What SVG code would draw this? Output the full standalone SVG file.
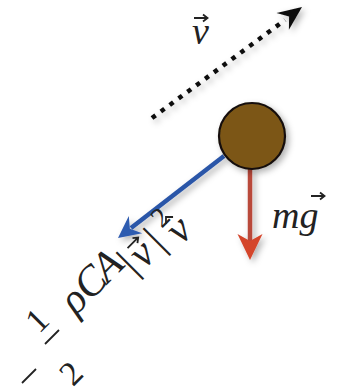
<svg xmlns="http://www.w3.org/2000/svg" width="339" height="391" viewBox="0 0 339 391">
<defs>
<filter id="sh" x="-30%" y="-30%" width="160%" height="160%">
<feDropShadow dx="3" dy="3" stdDeviation="3" flood-color="#000" flood-opacity="0.3"/>
</filter>
</defs>
<style>
.m{font-family:"Liberation Serif","DejaVu Serif",serif;font-style:italic;fill:#222}
.u{font-family:"Liberation Serif","DejaVu Serif",serif;fill:#222}
.c{text-anchor:middle;dominant-baseline:central}
.ln{stroke:#222;stroke-width:1.8;fill:none}
</style>
<rect width="339" height="391" fill="#fff"/>
<g id="connectors">
<g id="velocity-arrow" filter="url(#sh)">
<line x1="152" y1="118" x2="285" y2="20" stroke="#111" stroke-width="4.5" stroke-dasharray="4.5 6.5"/>
<path d="M302,7 L276.5,12.9 L289.1,16.5 L288.9,29.7 Z" fill="#111"/>
</g>
<g id="drag-arrow" filter="url(#sh)">
<line x1="224" y1="156" x2="131" y2="228" stroke="#2c56a8" stroke-width="4.5"/>
<path d="M118,238 L128.8,215.9 L129.9,228.8 L142.2,233.3 Z" fill="#2f5bb0"/>
</g>
<g id="gravity-arrow" filter="url(#sh)">
<line x1="250" y1="168" x2="250" y2="242" stroke="#b9483a" stroke-width="4.5"/>
<path d="M250,260 L237.5,234 L250,241 L262.5,234 Z" fill="#d4452c"/>
</g>
</g>
<g id="mass" filter="url(#sh)">
<circle cx="252" cy="136" r="33" fill="#7b5719" stroke="#15100a" stroke-width="2.2"/>
</g>
<g id="label-v">
<text class="m" x="192" y="44" font-size="38">v</text>
<path class="ln" d="M194,18 H207 M203,14.5 L207.5,18 L203,21.5"/>
</g>
<g id="label-mg">
<text class="m" x="272" y="228" font-size="38">mg</text>
<path class="ln" d="M311,196 H324 M320,192.5 L324.5,196 L320,199.5"/>
</g>
<g id="label-drag">
<line class="ln" x1="22" y1="383" x2="36" y2="369"/>
<text class="u c" font-size="34" transform="translate(37,320) rotate(-45)">1</text>
<line class="ln" x1="45" y1="344" x2="59" y2="330"/>
<text class="u c" font-size="34" transform="translate(71,373) rotate(-45)">2</text>
<text class="m c" font-size="42" transform="translate(73,299) rotate(-45)">ρ</text>
<text class="m c" font-size="42" transform="translate(90,282) rotate(-45)">C</text>
<text class="m c" font-size="42" transform="translate(107,265) rotate(-45)">A</text>
<text class="u c" font-size="42" transform="translate(127,263) rotate(-45)">|</text>
<text class="m c" font-size="42" transform="translate(141,253) rotate(-45)">v</text>
<path class="ln" d="M-6,-13 H8 M4.5,-16.5 L9,-13 L4.5,-9.5" transform="translate(141,253) rotate(-45)"/>
<text class="u c" font-size="42" transform="translate(154,239) rotate(-45)">|</text>
<text class="u c" font-size="28" transform="translate(160,217) rotate(-45)">2</text>
<text class="m c" font-size="42" transform="translate(178,229) rotate(-45)">v</text>
<path class="ln" d="M-5,-12 L0,-17 L5,-12" transform="translate(178,229) rotate(-45)"/>
</g>
</svg>
